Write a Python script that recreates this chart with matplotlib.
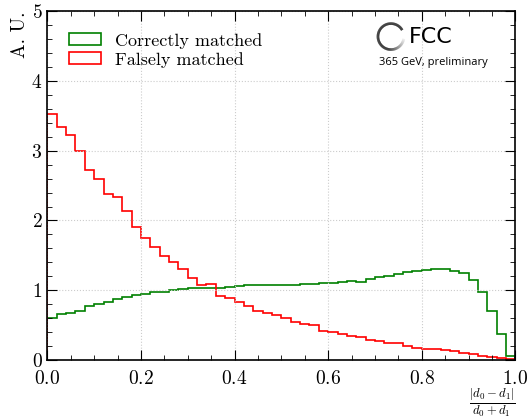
import numpy as np
import matplotlib.pyplot as plt
from matplotlib.ticker import MultipleLocator
from matplotlib.patches import Patch

# 50 bins of |d0-d1|/(d0+d1), normalised (A. U.)
correct = [0.61, 0.66, 0.68, 0.71, 0.77, 0.81, 0.83, 0.87, 0.91, 0.93,
           0.94, 0.97, 0.97, 1.00, 1.02, 1.03, 1.03, 1.03, 1.03, 1.05,
           1.06, 1.07, 1.08, 1.08, 1.08, 1.08, 1.08, 1.09, 1.09, 1.11,
           1.11, 1.12, 1.13, 1.12, 1.16, 1.19, 1.21, 1.23, 1.26, 1.28,
           1.29, 1.31, 1.31, 1.28, 1.25, 1.15, 0.98, 0.70, 0.37, 0.06]
false = [3.52, 3.34, 3.23, 2.99, 2.73, 2.60, 2.38, 2.33, 2.14, 1.90,
         1.75, 1.62, 1.49, 1.41, 1.30, 1.18, 1.08, 1.09, 0.92, 0.89,
         0.83, 0.78, 0.71, 0.67, 0.65, 0.61, 0.55, 0.51, 0.50, 0.42,
         0.40, 0.37, 0.34, 0.33, 0.29, 0.27, 0.25, 0.24, 0.20, 0.17,
         0.16, 0.16, 0.15, 0.13, 0.10, 0.09, 0.06, 0.05, 0.03, 0.02]
edges = np.linspace(0, 1, len(correct) + 1)
labels = ["Correctly matched", "Falsely matched"]
colors = ['green', 'red']

plt.rcParams['font.family'] = 'serif'
plt.rcParams['font.serif'] = ['cmr10', 'DejaVu Serif']
plt.rcParams['mathtext.fontset'] = 'cm'
plt.rcParams['axes.formatter.use_mathtext'] = True

fig = plt.figure(figsize=(5.3, 4.19), dpi=100)
ax = fig.add_axes([0.0893, 0.1406, 0.8833, 0.8329])

ax.stairs(correct, edges, color=colors[0], lw=1.2)
ax.stairs(false, edges, color=colors[1], lw=1.2)

ax.set_xlim(0, 1)
ax.set_ylim(0, 5)
ax.xaxis.set_major_locator(MultipleLocator(0.2))
ax.xaxis.set_minor_locator(MultipleLocator(0.05))
ax.yaxis.set_major_locator(MultipleLocator(1))
ax.yaxis.set_minor_locator(MultipleLocator(0.2))
ax.tick_params(which='both', direction='in', top=True, right=True, labelsize=14)
ax.tick_params(which='major', length=7)
ax.tick_params(which='minor', length=3.5)
ax.tick_params(axis='x', which='major', pad=7)
ax.grid(True, which='major', ls=':', color='#cccccc', lw=0.8)
for s in ax.spines.values():
    s.set_linewidth(1.2)

ax.set_ylabel("A. U.", fontsize=14, loc='top', labelpad=2)
ax.set_xlabel(r"$\frac{|d_0-d_1|}{d_0+d_1}$", fontsize=13, loc='right')
ax.xaxis.set_label_coords(1.0, -0.075)

handles = [Patch(facecolor='none', edgecolor=c, lw=1.2) for c in colors]
ax.legend(handles, labels, loc='upper left', frameon=False, fontsize=13,
          bbox_to_anchor=(0.026, 0.964), borderpad=0, handlelength=1.8,
          handleheight=0.68, handletextpad=0.78, labelspacing=0.18)

# FCC logo: fading ring + text (drawn in pixel offsets from a centre point)
w_px, h_px = ax.bbox.width, ax.bbox.height
cx, cy, r = 0.734, 0.927, 13.0
theta = np.linspace(np.radians(30), np.radians(350), 160)
for i in range(len(theta) - 1):
    t = i / (len(theta) - 2)
    g = 0.0 if t < 0.72 else min(1.0, (t - 0.72) / 0.28) * 0.92
    xs = [cx + r * np.cos(theta[i]) / w_px, cx + r * np.cos(theta[i + 1]) / w_px]
    ys = [cy + r * np.sin(theta[i]) / h_px, cy + r * np.sin(theta[i + 1]) / h_px]
    ax.plot(xs, ys, color=(g, g, g), lw=1.9, transform=ax.transAxes,
            solid_capstyle='butt')
ax.text(0.772, 0.925, "FCC", transform=ax.transAxes, fontsize=16,
        family='DejaVu Sans', va='center', ha='left')
ax.text(0.709, 0.868, "365 GeV, preliminary", transform=ax.transAxes, fontsize=8,
        family='Open Sans', va='top', ha='left')

fig.savefig("out.png", dpi=100)
